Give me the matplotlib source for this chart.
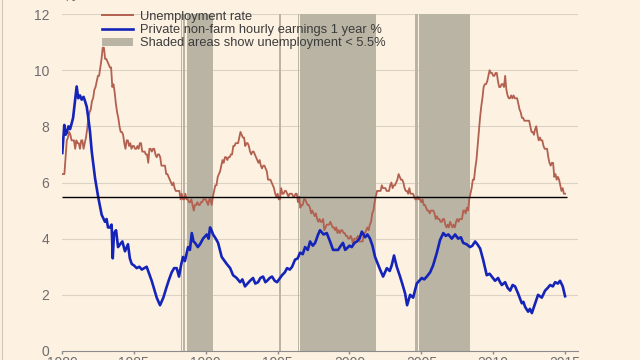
import matplotlib
matplotlib.use('Agg')
import matplotlib.pyplot as plt
from matplotlib.patches import Patch
from matplotlib.lines import Line2D
import numpy as np

plt.rcParams['font.family'] = ['Liberation Sans', 'DejaVu Sans']

# 실업률 (월별, 1980년 1월부터)
unemp_start = 1980
unemp_rate = [
    6.3, 6.3, 6.3, 6.9, 7.5, 7.6, 7.8, 7.7, 7.5, 7.5, 7.5, 7.2,   # 1980
    7.5, 7.4, 7.4, 7.2, 7.5, 7.5, 7.2, 7.4, 7.6, 7.9, 8.3, 8.5,   # 1981
    8.6, 8.9, 9.0, 9.3, 9.4, 9.6, 9.8, 9.8, 10.1, 10.4, 10.8, 10.8,  # 1982
    10.4, 10.4, 10.3, 10.2, 10.1, 10.1, 9.4, 9.5, 9.2, 8.8, 8.5, 8.3,  # 1983
    8.0, 7.8, 7.8, 7.7, 7.4, 7.2, 7.5, 7.5, 7.3, 7.4, 7.2, 7.3,   # 1984
    7.3, 7.2, 7.2, 7.3, 7.2, 7.4, 7.4, 7.1, 7.1, 7.1, 7.0, 7.0,   # 1985
    6.7, 7.2, 7.2, 7.1, 7.2, 7.2, 7.0, 6.9, 7.0, 7.0, 6.9, 6.6,   # 1986
    6.6, 6.6, 6.6, 6.3, 6.3, 6.2, 6.1, 6.0, 5.9, 6.0, 5.8, 5.7,   # 1987
    5.7, 5.7, 5.7, 5.4, 5.6, 5.4, 5.4, 5.6, 5.4, 5.4, 5.3, 5.3,   # 1988
    5.4, 5.2, 5.0, 5.2, 5.2, 5.3, 5.2, 5.2, 5.3, 5.3, 5.4, 5.4,   # 1989
    5.4, 5.3, 5.2, 5.4, 5.4, 5.2, 5.5, 5.7, 5.9, 5.9, 6.2, 6.3,   # 1990
    6.4, 6.6, 6.8, 6.7, 6.9, 6.9, 6.8, 6.9, 6.9, 7.0, 7.0, 7.3,   # 1991
    7.3, 7.4, 7.4, 7.4, 7.6, 7.8, 7.7, 7.6, 7.6, 7.3, 7.4, 7.4,   # 1992
    7.3, 7.1, 7.0, 7.1, 7.1, 7.0, 6.9, 6.8, 6.7, 6.8, 6.6, 6.5,   # 1993
    6.6, 6.6, 6.5, 6.4, 6.1, 6.1, 6.1, 6.0, 5.9, 5.8, 5.6, 5.5,   # 1994
    5.6, 5.4, 5.4, 5.8, 5.6, 5.6, 5.7, 5.7, 5.6, 5.5, 5.6, 5.6,   # 1995
    5.6, 5.5, 5.5, 5.6, 5.6, 5.3, 5.5, 5.1, 5.2, 5.2, 5.4, 5.4,   # 1996
    5.3, 5.2, 5.2, 5.1, 4.9, 5.0, 4.9, 4.8, 4.9, 4.7, 4.6, 4.7,   # 1997
    4.6, 4.6, 4.7, 4.3, 4.4, 4.5, 4.5, 4.5, 4.6, 4.5, 4.4, 4.4,   # 1998
    4.3, 4.4, 4.2, 4.3, 4.2, 4.3, 4.3, 4.2, 4.2, 4.1, 4.1, 4.0,   # 1999
    4.0, 4.1, 4.0, 3.8, 4.0, 4.0, 4.0, 4.1, 3.9, 3.9, 3.9, 3.9,   # 2000
    4.2, 4.2, 4.3, 4.4, 4.3, 4.5, 4.6, 4.9, 5.0, 5.3, 5.5, 5.7,   # 2001
    5.7, 5.7, 5.7, 5.9, 5.8, 5.8, 5.8, 5.7, 5.7, 5.7, 5.9, 6.0,   # 2002
    5.8, 5.9, 5.9, 6.0, 6.1, 6.3, 6.2, 6.1, 6.1, 6.0, 5.8, 5.7,   # 2003
    5.7, 5.6, 5.8, 5.6, 5.6, 5.6, 5.5, 5.4, 5.4, 5.5, 5.4, 5.4,   # 2004
    5.3, 5.4, 5.2, 5.2, 5.1, 5.0, 5.0, 4.9, 5.0, 5.0, 5.0, 4.9,   # 2005
    4.7, 4.8, 4.7, 4.7, 4.6, 4.6, 4.7, 4.7, 4.5, 4.4, 4.5, 4.4,   # 2006
    4.6, 4.5, 4.4, 4.5, 4.4, 4.6, 4.7, 4.6, 4.7, 4.7, 4.7, 5.0,   # 2007
    5.0, 4.9, 5.1, 5.0, 5.4, 5.6, 5.8, 6.1, 6.1, 6.5, 6.8, 7.3,   # 2008
    7.8, 8.3, 8.7, 9.0, 9.4, 9.5, 9.5, 9.6, 9.8, 10.0, 9.9, 9.9,  # 2009
    9.8, 9.8, 9.9, 9.9, 9.6, 9.4, 9.4, 9.5, 9.5, 9.4, 9.8, 9.3,   # 2010
    9.1, 9.0, 9.0, 9.1, 9.0, 9.1, 9.0, 9.0, 9.0, 8.8, 8.6, 8.5,   # 2011
    8.3, 8.3, 8.2, 8.2, 8.2, 8.2, 8.2, 8.0, 7.8, 7.8, 7.7, 7.9,   # 2012
    8.0, 7.7, 7.5, 7.6, 7.5, 7.5, 7.3, 7.2, 7.2, 7.2, 6.9, 6.7,   # 2013
    6.6, 6.7, 6.7, 6.2, 6.3, 6.1, 6.2, 6.1, 5.9, 5.7, 5.8, 5.6,   # 2014
    5.6,                                                            # 2015
]
unemp_time = unemp_start + np.arange(len(unemp_rate)) / 12

# 민간 비농업 시간당 임금 전년비 (%)
earn_time = [
    1980.02, 1980.10, 1980.16, 1980.25, 1980.33, 1980.45, 1980.56, 1980.67,
    1980.77, 1980.90, 1981.02, 1981.13, 1981.25, 1981.37, 1981.50, 1981.60,
    1981.72, 1981.83, 1981.95, 1982.07, 1982.30, 1982.53, 1982.76, 1982.99,
    1983.10, 1983.20, 1983.34, 1983.45, 1983.53, 1983.62, 1983.76, 1983.90,
    1984.04, 1984.20, 1984.38, 1984.59, 1984.72, 1984.85, 1985.00, 1985.20,
    1985.38, 1985.55, 1985.72, 1985.89, 1986.24, 1986.59, 1986.82, 1987.05,
    1987.29, 1987.45, 1987.63, 1987.80, 1987.98, 1988.14, 1988.30, 1988.42,
    1988.55, 1988.68, 1988.77, 1988.90, 1989.03, 1989.15, 1989.26, 1989.45,
    1989.60, 1989.81, 1990.07, 1990.20, 1990.30, 1990.40, 1990.51, 1990.70,
    1990.86, 1991.11, 1991.46, 1991.70, 1991.90, 1992.15, 1992.39, 1992.55,
    1992.73, 1992.90, 1993.08, 1993.29, 1993.45, 1993.64, 1993.80, 1993.99,
    1994.15, 1994.27, 1994.45, 1994.61, 1994.80, 1994.96, 1995.31, 1995.50,
    1995.66, 1995.85, 1996.01, 1996.21, 1996.40, 1996.56, 1996.75, 1996.91,
    1997.10, 1997.26, 1997.45, 1997.61, 1997.82, 1997.95, 1998.20, 1998.42,
    1998.65, 1998.86, 1999.21, 1999.40, 1999.55, 1999.70, 1999.81, 2000.00,
    2000.16, 2000.35, 2000.51, 2000.70, 2000.86, 2001.09, 2001.25, 2001.43,
    2001.60, 2001.78, 2002.13, 2002.34, 2002.60, 2002.80, 2002.94, 2003.10,
    2003.29, 2003.52, 2003.70, 2003.87, 2004.01, 2004.22, 2004.43, 2004.68,
    2005.03, 2005.20, 2005.38, 2005.61, 2005.82, 2006.08, 2006.30, 2006.53,
    2006.70, 2006.88, 2007.12, 2007.35, 2007.56, 2007.75, 2007.91, 2008.15,
    2008.39, 2008.55, 2008.74, 2008.90, 2009.09, 2009.30, 2009.55, 2009.75,
    2009.90, 2010.13, 2010.34, 2010.48, 2010.60, 2010.83, 2011.00, 2011.18,
    2011.35, 2011.52, 2011.73, 2011.99, 2012.10, 2012.22, 2012.43, 2012.55,
    2012.69, 2012.92, 2013.12, 2013.38, 2013.61, 2013.80, 2013.96, 2014.15,
    2014.31, 2014.50, 2014.65, 2014.84, 2015.00,
]
earn_pct = [
    7.05, 7.6, 8.05, 7.7, 7.77, 8.0, 7.9, 8.1,
    8.3, 8.9, 9.42, 9.0, 9.1, 8.95, 9.05, 8.9,
    8.7, 8.3, 7.8, 7.1, 6.15, 5.45, 4.85, 4.6,
    4.7, 4.4, 4.4, 4.5, 3.3, 4.2, 4.3, 3.7,
    3.8, 3.9, 3.55, 3.8, 3.3, 3.1, 3.05, 2.95,
    3.0, 2.9, 2.95, 3.0, 2.5, 1.9, 1.63, 1.9,
    2.3, 2.55, 2.8, 2.95, 2.95, 2.65, 3.1, 3.35,
    3.2, 3.5, 3.7, 3.6, 4.2, 3.9, 3.85, 3.7,
    3.8, 4.0, 4.15, 4.0, 4.4, 4.3, 4.15, 4.0,
    3.85, 3.35, 3.1, 2.95, 2.7, 2.6, 2.45, 2.55,
    2.3, 2.4, 2.5, 2.6, 2.4, 2.45, 2.6, 2.65,
    2.45, 2.5, 2.6, 2.65, 2.5, 2.45, 2.7, 2.8,
    2.95, 2.9, 3.0, 3.25, 3.3, 3.5, 3.45, 3.7,
    3.6, 3.9, 3.75, 3.85, 4.15, 4.3, 4.15, 4.2,
    3.9, 3.6, 3.6, 3.75, 3.85, 3.6, 3.65, 3.75,
    3.7, 3.85, 3.9, 4.0, 4.25, 4.05, 4.15, 4.0,
    3.75, 3.35, 2.9, 2.65, 2.95, 2.85, 3.05, 3.4,
    3.0, 2.65, 2.35, 2.05, 1.63, 2.0, 1.9, 2.4,
    2.6, 2.55, 2.65, 2.8, 3.05, 3.5, 3.95, 4.2,
    4.1, 4.15, 4.0, 4.15, 4.0, 4.05, 3.85, 3.8,
    3.7, 3.75, 3.9, 3.8, 3.65, 3.25, 2.7, 2.75,
    2.65, 2.5, 2.6, 2.45, 2.35, 2.45, 2.25, 2.15,
    2.35, 2.3, 2.05, 1.7, 1.75, 1.57, 1.4, 1.5,
    1.35, 1.7, 2.0, 1.9, 2.15, 2.25, 2.35, 2.3,
    2.45, 2.4, 2.5, 2.3, 1.95,
]

threshold = 5.5
x_ticks = [1980, 1985, 1990, 1995, 2000, 2005, 2010, 2015]
y_ticks = [0, 2, 4, 6, 8, 10, 12]

bg = '#FDF1E1'
shade = '#B9B4A4'

fig = plt.figure(figsize=(6.4, 3.6), dpi=100, facecolor=bg)
ax = fig.add_axes([62 / 640, 9 / 360, 516 / 640, 337 / 360])
ax.set_facecolor(bg)

# 실업률 < 5.5% 구간 음영
below = np.array(unemp_rate) < threshold
i = 0
while i < len(below):
    if below[i]:
        j = i
        while j + 1 < len(below) and below[j + 1]:
            j += 1
        ax.axvspan(unemp_time[i], unemp_time[j] + 1 / 12, color=shade, lw=0, zorder=1)
        i = j + 1
    else:
        i += 1

for y in y_ticks[1:]:
    ax.axhline(y, color='#D9D2C5', lw=0.8, zorder=0.5)

ax.plot(unemp_time, unemp_rate, color='#B2604F', lw=1.3, zorder=3)
ax.plot(earn_time, earn_pct, color='#1424B8', lw=1.9, zorder=4)
ax.hlines(threshold, 1980, 2015.1, color='black', lw=1.0, zorder=5)

ax.set_xlim(1980, 2015.9)
ax.set_ylim(0, 12)
ax.set_xticks(x_ticks)
ax.set_yticks(y_ticks)
for s in ['top', 'right', 'left']:
    ax.spines[s].set_visible(False)
ax.spines['bottom'].set_color('#8C8C8C')
ax.tick_params(axis='y', length=0, pad=9, labelsize=10, labelcolor='#6E6E6E')
ax.tick_params(axis='x', length=2.5, width=1, color='#8C8C8C', pad=1.0,
               labelsize=10, labelcolor='#6E6E6E')

handles = [
    Line2D([], [], color='#B2604F', lw=1.4),
    Line2D([], [], color='#1424B8', lw=1.9),
    Patch(facecolor=shade, edgecolor='none'),
]
labels = [
    'Unemployment rate',
    'Private non-farm hourly earnings 1 year %',
    'Shaded areas show unemployment < 5.5%',
]
leg = ax.legend(handles, labels, loc='upper left', bbox_to_anchor=(0.068, 1.025),
                frameon=False, fontsize=9.3, handlelength=2.4, handleheight=0.6,
                handletextpad=0.55, labelspacing=0.1, borderaxespad=0)
for t in leg.get_texts():
    t.set_color('#3C3C3C')

fig.text(63 / 640, 1 - 4 / 360, '%', fontsize=10, color='#6E6E6E', va='bottom')
fig.add_artist(Line2D([0.003, 0.003], [0, 1], color='#CFC8BA', lw=0.8))

fig.savefig('out.png', dpi=100, facecolor=bg)
